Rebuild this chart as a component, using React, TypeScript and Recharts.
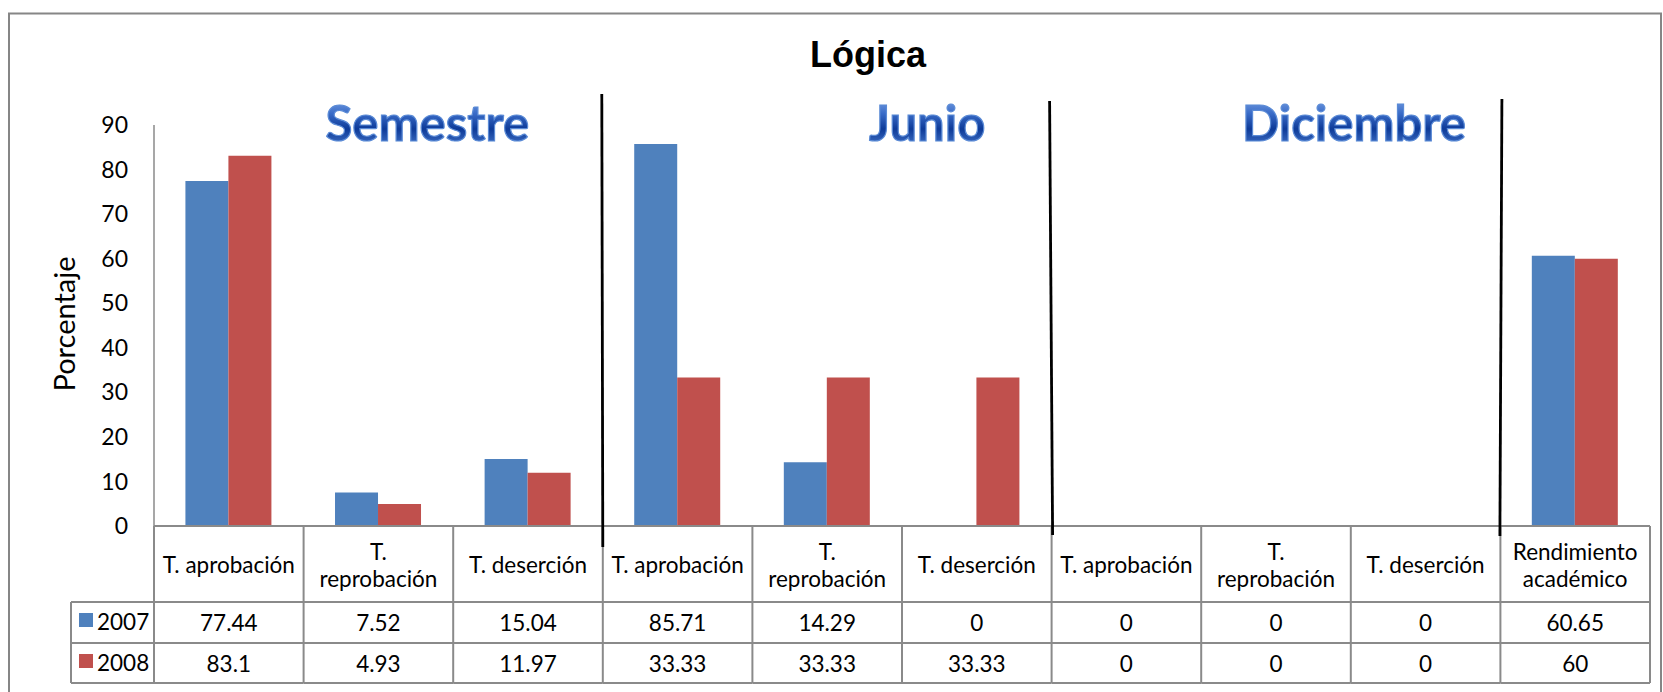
import { Bar, BarChart, XAxis, YAxis } from "recharts"

const categories = [
  "T. aprobación",
  "T. reprobación",
  "T. deserción",
  "T. aprobación",
  "T. reprobación",
  "T. deserción",
  "T. aprobación",
  "T. reprobación",
  "T. deserción",
  "Rendimiento académico",
]
const seriesNames = ["2007", "2008"]
const values2007 = [77.44, 7.52, 15.04, 85.71, 14.29, 0, 0, 0, 0, 60.65]
const values2008 = [83.1, 4.93, 11.97, 33.33, 33.33, 33.33, 0, 0, 0, 60]
const sections = ["Semestre", "Junio", "Diciembre"]
const yTicks = [0, 10, 20, 30, 40, 50, 60, 70, 80, 90]

const BLUE = "#4f81bd"
const RED = "#c0504d"
const GRID = "#8a8a8a"
const FONT = "Lato, 'Open Sans', sans-serif"

const data = categories.map((name, i) => ({
  id: `c${i}`,
  name,
  y2007: values2007[i],
  y2008: values2008[i],
}))

// long headers wrap onto two lines in the table
const headerLines = (label: string) => {
  if (label.length <= 13) return [label]
  const cut = label.indexOf(" ")
  return [label.slice(0, cut), label.slice(cut + 1)]
}

// section titles sit over the middle category of each group of three
const sectionAt: Record<number, { text: string; dx: number }> = {
  1: { text: sections[0], dx: 49 },
  4: { text: sections[1], dx: 100 },
  7: { text: sections[2], dx: 78 },
}
// hand drawn separators on the left edge of these categories
const dividerAt: Record<number, { top: number; bottom: number; dTop: number; dBottom: number }> = {
  3: { top: -432, bottom: 21, dTop: -1, dBottom: 0 },
  6: { top: -425, bottom: 9, dTop: -2, dBottom: 1 },
  9: { top: -427, bottom: 10, dTop: 1.5, dBottom: -0.5 },
}

function TableTick(props: any) {
  const { x, y, payload } = props
  const i: number = payload.index ?? props.index
  const half: number = payload.offset || 74.8
  const left = x - half
  const right = x + half
  const last = i === categories.length - 1
  const lines = headerLines(categories[i])
  const txt = { fontFamily: FONT, fontSize: 22.5, fill: "#000", textAnchor: "middle" as const, dominantBaseline: "central" as const }
  const sec = sectionAt[i]
  const div = dividerAt[i]

  return (
    <g>
      {/* cell borders */}
      <line x1={left} y1={y} x2={left} y2={y + 157} stroke={GRID} strokeWidth={2} />
      {last && <line x1={right} y1={y} x2={right} y2={y + 157} stroke={GRID} strokeWidth={2} />}
      <line x1={left} y1={y + 76} x2={right} y2={y + 76} stroke={GRID} strokeWidth={2} />
      <line x1={left} y1={y + 117} x2={right} y2={y + 117} stroke={GRID} strokeWidth={2} />
      <line x1={left} y1={y + 157} x2={right} y2={y + 157} stroke={GRID} strokeWidth={2} />

      {lines.length === 1 ? (
        <text x={x} y={y + 38} {...txt}>{lines[0]}</text>
      ) : (
        <>
          <text x={x} y={y + 25} {...txt}>{lines[0]}</text>
          <text x={x} y={y + 52} {...txt}>{lines[1]}</text>
        </>
      )}
      <text x={x} y={y + 96} {...txt}>{String(values2007[i])}</text>
      <text x={x} y={y + 137} {...txt}>{String(values2008[i])}</text>

      {/* legend column */}
      {i === 0 && (
        <g>
          <line x1={left - 83} y1={y + 76} x2={left} y2={y + 76} stroke={GRID} strokeWidth={2} />
          <line x1={left - 83} y1={y + 117} x2={left} y2={y + 117} stroke={GRID} strokeWidth={2} />
          <line x1={left - 83} y1={y + 157} x2={left} y2={y + 157} stroke={GRID} strokeWidth={2} />
          <line x1={left - 83} y1={y + 76} x2={left - 83} y2={y + 157} stroke={GRID} strokeWidth={2} />
          <rect x={left - 75} y={y + 87} width={14} height={14} fill={BLUE} />
          <rect x={left - 75} y={y + 128} width={14} height={14} fill={RED} />
          <text x={left - 57} y={y + 95} {...txt} textAnchor="start">{seriesNames[0]}</text>
          <text x={left - 57} y={y + 136} {...txt} textAnchor="start">{seriesNames[1]}</text>
        </g>
      )}

      {sec && (
        <text
          x={x + sec.dx}
          y={y - 385}
          textAnchor="middle"
          fontFamily={FONT}
          fontWeight={700}
          fontSize={49}
          fill="url(#secGrad)"
          stroke="#5b8bd6"
          strokeWidth={1.2}
        >
          {sec.text}
        </text>
      )}

      {div && (
        <line
          x1={left + div.dTop}
          y1={y + div.top}
          x2={left + div.dBottom}
          y2={y + div.bottom}
          stroke="#000"
          strokeWidth={2.8}
        />
      )}
    </g>
  )
}

export default function App() {
  return (
    <div style={{ position: "absolute", left: 0, top: 0, width: 1663, height: 692, background: "#fff" }}>
      <svg width={1663} height={692} style={{ position: "absolute", left: 0, top: 0 }}>
        <defs>
          <linearGradient id="secGrad" x1="0" y1="0" x2="0" y2="1">
            <stop offset="0%" stopColor="#8cb0ea" />
            <stop offset="35%" stopColor="#3a6cc8" />
            <stop offset="62%" stopColor="#0d3a98" />
            <stop offset="100%" stopColor="#4f80d2" />
          </linearGradient>
        </defs>
        <rect x={9} y={13.5} width={1652} height={700} fill="none" stroke="#868686" strokeWidth={2} />
        <text x={868} y={67} textAnchor="middle" fontFamily="'Liberation Sans', Arial, sans-serif" fontWeight={700} fontSize={36}>
          Lógica
        </text>
        <text
          x={0}
          y={0}
          transform="translate(63,324) rotate(-90)"
          textAnchor="middle"
          dominantBaseline="central"
          fontFamily={FONT}
          fontSize={29}
        >
          Porcentaje
        </text>
      </svg>
      <div style={{ position: "absolute", left: 0, top: 0 }}>
        <BarChart
          width={1663}
          height={692}
          data={data}
          margin={{ top: 125, right: 13, bottom: 0, left: 0 }}
          barCategoryGap="21%"
          barGap={0}
        >
          <XAxis
            dataKey="id"
            height={166}
            interval={0}
            tickLine={false}
            tickSize={0}
            tickMargin={0}
            axisLine={{ stroke: GRID, strokeWidth: 2 }}
            tick={(p: any) => <TableTick {...p} />}
          />
          <YAxis
            width={154}
            domain={[0, 90]}
            ticks={yTicks}
            interval={0}
            tickLine={false}
            tickSize={0}
            tickMargin={26}
            axisLine={{ stroke: GRID, strokeWidth: 1.5 }}
            tick={{ fill: "#000", fontSize: 23, fontFamily: FONT }}
          />
          <Bar dataKey="y2007" name={seriesNames[0]} fill={BLUE} isAnimationActive={false} />
          <Bar dataKey="y2008" name={seriesNames[1]} fill={RED} isAnimationActive={false} />
        </BarChart>
      </div>
    </div>
  )
}
